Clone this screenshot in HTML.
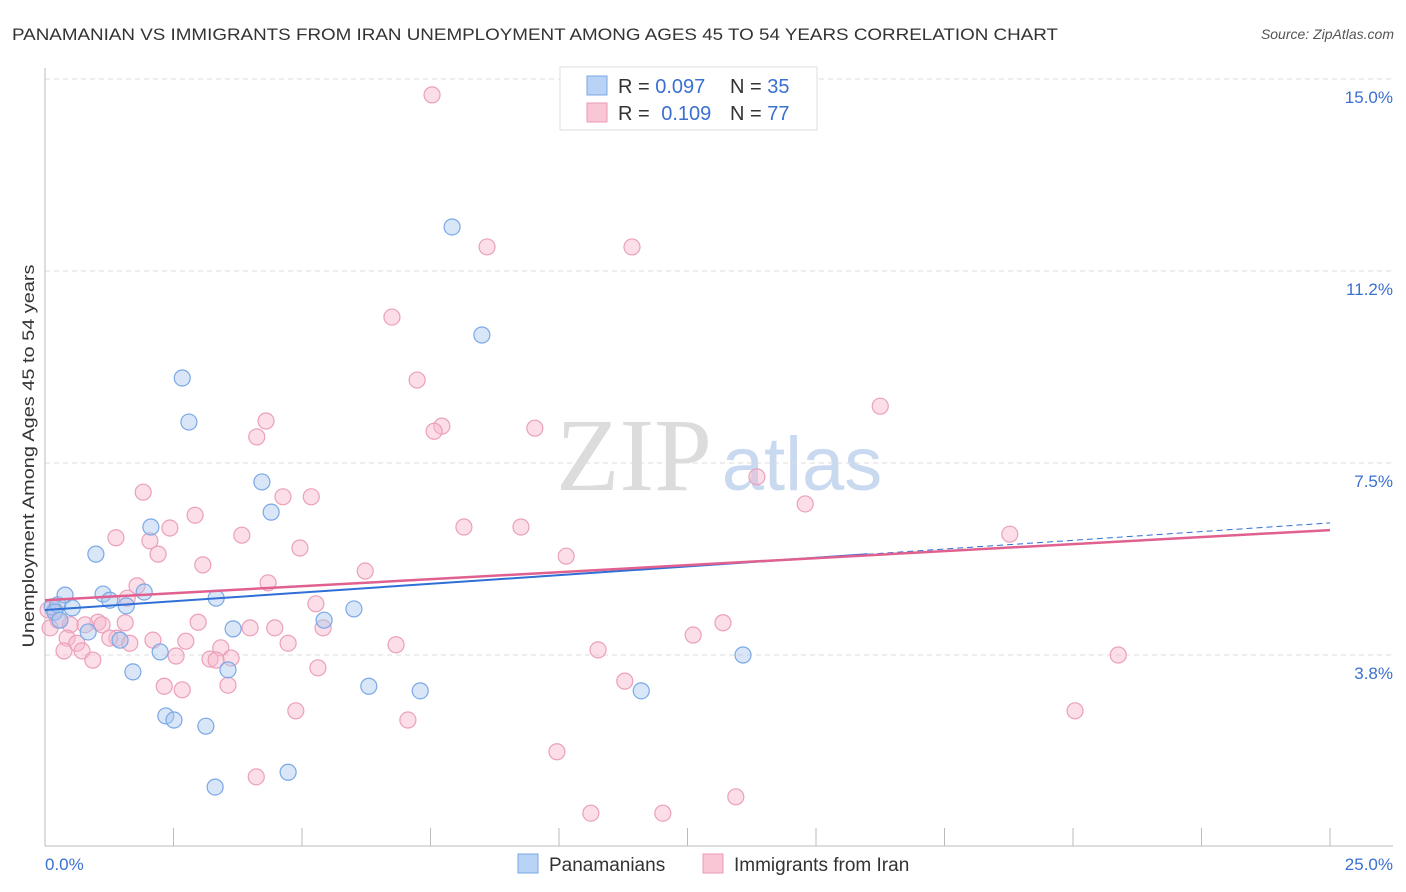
<!DOCTYPE html>
<html><head><meta charset="utf-8"><style>
body{margin:0;background:#fff;font-family:"Liberation Sans",sans-serif;}
svg{display:block}
</style></head><body>
<svg id="chart" width="1406" height="892">
<text x="12" y="40" font-size="17" fill="#333" textLength="1046" lengthAdjust="spacingAndGlyphs">PANAMANIAN VS IMMIGRANTS FROM IRAN UNEMPLOYMENT AMONG AGES 45 TO 54 YEARS CORRELATION CHART</text>
<text x="1394" y="39" font-size="14" fill="#555" font-style="italic" text-anchor="end">Source: ZipAtlas.com</text>
<g>
<text x="634" y="490" font-size="104" font-family="Liberation Serif,serif" fill="#dcdcdc" text-anchor="middle">ZIP</text>
<text x="802" y="490" font-size="76" fill="#c8d9f0" text-anchor="middle">atlas</text>
</g>
<g id="grid"></g>
<g id="axes"></g>
<g id="marks"></g>
<text transform="translate(34,456) rotate(-90)" font-size="17" fill="#333" text-anchor="middle" textLength="383" lengthAdjust="spacingAndGlyphs">Unemployment Among Ages 45 to 54 years</text>
<g>
<rect x="560" y="67" width="257" height="63" fill="#fff" stroke="#ddd"/>
<rect x="587" y="76" width="20" height="19" fill="#b8d3f5" stroke="#7aa8e6"/>
<rect x="587" y="103" width="20" height="19" fill="#f9c6d5" stroke="#ec9ab6"/>
<text x="618" y="93" font-size="20" fill="#333">R = <tspan fill="#3a70d0">0.097</tspan></text>
<text x="730" y="93" font-size="20" fill="#333">N = <tspan fill="#3a70d0">35</tspan></text>
<text x="618" y="120" font-size="20" fill="#333">R = <tspan fill="#3a70d0" dx="6">0.109</tspan></text>
<text x="730" y="120" font-size="20" fill="#333">N = <tspan fill="#3a70d0">77</tspan></text>
</g>
<g>
<rect x="518" y="854" width="20" height="19" fill="#b8d3f5" stroke="#7aa8e6"/>
<text x="549" y="871" font-size="19" fill="#333">Panamanians</text>
<rect x="703" y="854" width="20" height="19" fill="#f9c6d5" stroke="#ec9ab6"/>
<text x="734" y="871" font-size="19" fill="#333">Immigrants from Iran</text>
</g>
</svg>
<script>
const blueX=[.14,.25,.19,.39,.53,.29,.84,.99,1.13,1.26,1.58,1.46,1.71,1.93,2.06,2.24,2.35,2.51,2.67,2.80,3.13,3.31,3.33,3.56,3.66,4.22,4.40,4.73,5.43,6.01,6.30,7.30,7.92,8.50,11.60,13.58];
const blueY=[4.69,4.73,4.59,4.92,4.67,4.43,4.20,5.72,4.94,4.82,4.71,4.04,3.42,4.98,6.25,3.81,2.56,2.48,9.16,8.30,2.36,1.17,4.86,3.46,4.26,7.13,6.54,1.46,4.43,4.65,3.14,3.05,12.11,10.0,3.05,3.75];
const pinkX=[7.53,8.60,11.42,6.75,7.24,16.25,4.30,4.12,7.72,7.57,9.53,13.85,1.91,5.18,4.63,2.92,14.79,2.43,8.15,9.26,1.38,3.83,2.04,4.96,2.20,18.77,10.14,3.07,6.23,4.34,1.79,1.60,5.27,.19,.25,.49,1.03,1.11,.78,1.56,1.40,1.26,2.98,3.99,4.47,5.41,.43,.62,1.65,2.10,2.74,4.73,6.83,.37,.72,.93,2.55,3.21,3.42,3.33,3.62,10.76,12.61,13.19,20.88,5.31,2.32,2.67,3.56,11.28,4.88,20.04,7.06,9.96,4.11,10.62,12.02,13.44,.10,.06];
const pinkY=[14.69,11.72,11.72,10.35,9.12,8.61,8.32,8.01,8.22,8.12,8.18,7.23,6.93,6.84,6.84,6.48,6.70,6.23,6.25,6.25,6.04,6.09,5.98,5.84,5.72,6.11,5.68,5.51,5.39,5.16,5.10,4.86,4.75,4.63,4.43,4.34,4.39,4.34,4.34,4.38,4.08,4.08,4.39,4.28,4.28,4.28,4.08,3.98,3.98,4.04,4.02,3.98,3.95,3.83,3.83,3.65,3.73,3.67,3.89,3.65,3.69,3.85,4.14,4.38,3.75,3.50,3.14,3.07,3.16,3.24,2.66,2.66,2.48,1.86,1.37,0.66,0.66,0.98,4.28,4.63];
const yTicks=[15.0,11.25,7.5,3.75];
const yTickLabels=["15.0%","11.2%","7.5%","3.8%"];
const blueTrend=[4.63,6.33];
const pinkTrend=[4.82,6.19];
const blueSolidEnd=16;
const NS="http://www.w3.org/2000/svg";
const X=v=>45+v*51.4;
const Y=v=>847-v*51.2;
function mk(tag,attrs,parent){const e=document.createElementNS(NS,tag);for(const k in attrs)e.setAttribute(k,attrs[k]);parent.appendChild(e);return e;}
const grid=document.getElementById('grid'),axes=document.getElementById('axes'),marks=document.getElementById('marks');
mk('line',{x1:45,x2:1393,y1:79,y2:79,stroke:'#ddd','stroke-dasharray':'5,4'},grid);
yTicks.forEach((t,i)=>{
 const g=mk('line',{x1:45,x2:1393,y1:Y(t),y2:Y(t),stroke:'#ddd','stroke-dasharray':'5,4'},grid);
 
 
 const tx=mk('text',{x:1393,y:Y(t)+24,'font-size':17,fill:'#3a70d0','text-anchor':'end'},axes);
 tx.textContent=yTickLabels[i];
 
 
});
mk('line',{x1:45,x2:45,y1:68,y2:846,stroke:'#bbb'},axes);
mk('line',{x1:45,x2:1393,y1:846,y2:846,stroke:'#bbb'},axes);
for(let i=0;i<=10;i++){const t=mk('line',{x1:X(i*2.5),x2:X(i*2.5),y1:828,y2:846,stroke:'#bbb'},axes);
 
 }
let a=mk('text',{x:45,y:870,'font-size':17,fill:'#3a70d0'},axes);a.textContent='0.0%';


a=mk('text',{x:1393,y:870,'font-size':17,fill:'#3a70d0','text-anchor':'end'},axes);a.textContent='25.0%';


pinkX.forEach((x,i)=>{const c=mk('circle',{cx:X(x),cy:Y(pinkY[i]),r:8,fill:'rgba(246,182,203,0.45)',stroke:'#eba0ba','stroke-width':1.2},marks);
 
 });
blueX.forEach((x,i)=>{const c=mk('circle',{cx:X(x),cy:Y(blueY[i]),r:8,fill:'rgba(168,200,240,0.45)',stroke:'#7aa8e6','stroke-width':1.2},marks);
 
 });
const bAt=v=>blueTrend[0]+(blueTrend[1]-blueTrend[0])*v/25;
let l=mk('line',{x1:X(0),y1:Y(bAt(0)),x2:X(blueSolidEnd),y2:Y(bAt(blueSolidEnd)),stroke:'#2f6fd6','stroke-width':2},marks);


l=mk('line',{x1:X(blueSolidEnd),y1:Y(bAt(blueSolidEnd)),x2:X(25),y2:Y(bAt(25)),stroke:'#2f6fd6','stroke-width':1,'stroke-dasharray':'6,4'},marks);


l=mk('line',{x1:X(0),y1:Y(pinkTrend[0]),x2:X(25),y2:Y(pinkTrend[1]),stroke:'#e0608f','stroke-width':2.5},marks);


</script>
</body></html>
